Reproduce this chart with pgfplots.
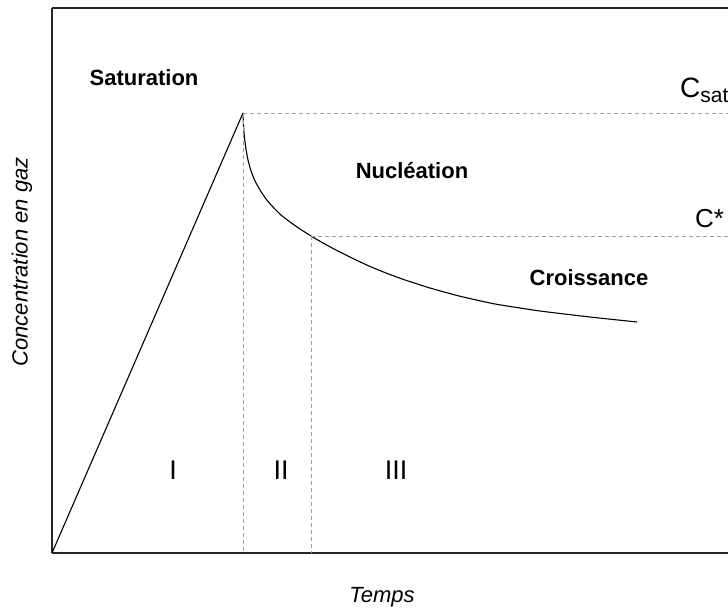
\documentclass[border=0pt]{standalone}
\usepackage{pgfplots}
\pgfplotsset{compat=1.18}
\usepackage{fontspec}
\setmainfont{Liberation Sans}
\begin{document}
\begin{tikzpicture}
\begin{axis}[
  scale only axis,
  width=676bp, height=545bp,
  xmin=52, xmax=728, ymin=8, ymax=553,
  y dir=reverse,
  axis x line*=box, axis y line*=left,
  axis line style={black!85, line width=1.2bp},
  xtick=\empty, ytick=\empty,
  clip=false,
]
% rising line
\addplot[black, line width=1.1bp] coordinates {(52,553) (243,113)};
% decay curve
\addplot[black, line width=1.1bp, smooth, tension=0.3] coordinates {
(243,113) (243.4,124) (244.3,136) (245.8,148) (248,160) (251,171) (255,181)
(260,190) (266,199) (273,207) (281,215) (290,222) (300,229) (311,236)
(323,243) (336,250) (352,258) (369,266) (386,273) (405,280) (430,288)
(459,296) (495,304) (540,311) (590,317) (637,322)};
% dashed guides
\addplot[gray!75, line width=0.9bp, dash pattern=on 4bp off 3bp] coordinates {(243,113) (728,113)};
\addplot[gray!75, line width=0.9bp, dash pattern=on 4bp off 3bp] coordinates {(243,113) (243,553)};
\addplot[gray!75, line width=0.9bp, dash pattern=on 4bp off 3bp] coordinates {(311,236) (728,236)};
\addplot[gray!75, line width=0.9bp, dash pattern=on 4bp off 3bp] coordinates {(311,236) (311,553)};
% labels
\node[font=\fontsize{22bp}{26bp}\selectfont\bfseries] at (axis cs:144,78) {Saturation};
\node[font=\fontsize{22bp}{26bp}\selectfont\bfseries] at (axis cs:412,171) {Nucléation};
\node[font=\fontsize{22bp}{26bp}\selectfont\bfseries] at (axis cs:589,278) {Croissance};
\node[font=\fontsize{27bp}{30bp}\selectfont] at (axis cs:173,470) {I};
\node[font=\fontsize{27bp}{30bp}\selectfont] at (axis cs:281,470) {II};
\node[font=\fontsize{27bp}{30bp}\selectfont] at (axis cs:396,470) {III};
\node[font=\fontsize{28bp}{30bp}\selectfont, anchor=base west, inner sep=0pt] at (axis cs:680,97) {C\raisebox{-5bp}{\fontsize{21bp}{22bp}\selectfont sat}};
\node[font=\fontsize{26bp}{30bp}\selectfont, anchor=base west, inner sep=0pt] at (axis cs:695,227) {C*};
\node[font=\fontsize{22bp}{26bp}\selectfont\itshape] at (axis cs:382,597) {Temps};
\node[font=\fontsize{22bp}{26bp}\selectfont\itshape, rotate=90] at (axis cs:22,262) {Concentration en gaz};
\coordinate (bbsw) at (axis cs:0,608);
\coordinate (bbne) at (axis cs:728,0);
\end{axis}
\pgfresetboundingbox
\path[use as bounding box] (bbsw) rectangle (bbne);
\end{tikzpicture}
\end{document}
